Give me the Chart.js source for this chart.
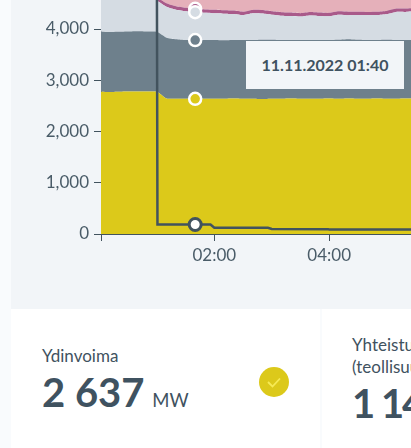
<!doctype html>
<html>
<head>
    <meta charset="UTF-8">
    <title>Sähköntuotanto</title>
    <script src="https://cdn.jsdelivr.net/npm/chart.js@4/dist/chart.umd.min.js"></script>
    <style>
        html, body { margin: 0; padding: 0; width: 411px; height: 448px; overflow: hidden; background: #f9fbfd; }
        body { position: relative; font-family: Lato, sans-serif; color: #3f5260; }
        #panel { position: absolute; left: 11px; top: 0; width: 400px; height: 309px; background: #f2f5f8; }
        #chart-area { position: absolute; left: 0; top: 0; }
        #stamp { position: absolute; left: 246px; top: 41px; width: 158px; height: 48px; line-height: 48px; background: #f2f5f8; text-align: center; font-size: 16px; font-weight: 700; }
        .card { position: absolute; top: 309px; height: 139px; background: #fff; overflow: hidden; }
        #card1 { left: 11px; width: 309px; }
        #card2 { left: 322px; width: 89px; }
        .label { position: absolute; font-size: 17px; line-height: 22px; white-space: nowrap; }
        .value { position: absolute; font-size: 40px; font-weight: 700; line-height: 44px; white-space: nowrap; }
        .value span { font-size: 18.5px; font-weight: 400; margin-left: -2px; }
        #check { position: absolute; left: 248px; top: 58px; }
    </style>
</head>
<body>
<div id="panel"></div>
<canvas id="chart-area" width="411" height="300"></canvas>
<div id="stamp">11.11.2022 01:40</div>
<div class="card" id="card1">
    <div class="label" style="left:31px;top:36px">Ydinvoima</div>
    <div class="value" style="left:31px;top:61px">2 637 <span>MW</span></div>
    <svg id="check" width="30" height="30" viewBox="0 0 30 30">
        <circle cx="15" cy="15" r="15" fill="#dcc91a"></circle>
        <path d="M9 15 L13.5 19.5 L21 11.5" fill="none" stroke="#f6ea55" stroke-width="1.8"></path>
    </svg>
</div>
<div class="card" id="card2">
    <div class="label" style="left:30px;top:25px">Yhteistuotanto<br>(teollisuus)</div>
    <div class="value" style="left:30px;top:72px;letter-spacing:-2px">1 148 <span>MW</span></div>
</div>
<script>
    // minuutit keskiyöstä
    var minutes = [0, 10, 20, 30, 40, 50, 60, 70, 80, 90, 100, 110, 120, 130, 140, 150, 160, 170, 180, 190, 200, 210, 220, 230, 240, 250, 260, 270, 280, 290, 300, 310, 320, 330];
    var nuclear = [2775, 2770, 2775, 2780, 2780, 2780, 2775, 2645, 2640, 2640, 2637, 2640, 2640, 2640, 2645, 2640, 2640, 2635, 2640, 2640, 2645, 2640, 2640, 2640, 2645, 2640, 2645, 2640, 2640, 2645, 2640, 2640, 2645, 2640];
    var chp = [1170, 1170, 1170, 1170, 1175, 1170, 1170, 1185, 1160, 1145, 1148, 1145, 1145, 1140, 1140, 1145, 1145, 1155, 1150, 1145, 1140, 1145, 1145, 1145, 1140, 1150, 1155, 1150, 1145, 1140, 1150, 1145, 1140, 1145];
    var hydro = [675, 680, 675, 670, 665, 670, 607, 605, 577, 562, 543, 533, 523, 519, 508, 486, 523, 513, 489, 475, 469, 459, 480, 469, 463, 489, 469, 481, 484, 486, 497, 547, 549, 559];
    var wind = [66, 64, 68, 66, 65, 67, 66, 66, 66, 66, 66, 64, 68, 66, 66, 67, 65, 66, 66, 68, 66, 64, 66, 66, 67, 66, 68, 66, 65, 66, 66, 66, 64, 66];
    var other = [820, 815, 810, 805, 800, 800, 790, 785, 780, 780, 775, 775, 770, 770, 770, 765, 765, 760, 760, 760, 755, 755, 755, 750, 750, 750, 745, 745, 745, 740, 740, 740, 735, 735];
    var loadMinutes = [0, 60, 60.6, 100, 116, 120, 176, 180, 239, 240, 330];
    var loadValues = [4950, 4950, 185, 185, 185, 123, 123, 98, 92, 90, 88];
    var hoverMinute = 100;
    var xTicks = [1.6, 120, 240];
    var yTicks = [0, 1000, 2000, 3000, 4000];

    function band(label, values, fillColor, fillTo) {
        return {
            label: label,
            stack: 'production',
            data: values.map(function (v, i) { return { x: minutes[i], y: v }; }),
            backgroundColor: fillColor,
            borderWidth: 0,
            fill: fillTo,
            tension: 0.2,
            pointRadius: function (ctx) { return ctx.raw && ctx.raw.x === hoverMinute ? 6 : 0; },
            pointBackgroundColor: fillColor,
            pointBorderColor: '#fff',
            pointBorderWidth: 2.5
        };
    }

    var datasets = [
        band('Ydinvoima', nuclear, '#dcc91a', 'origin'),
        band('Yhteistuotanto (teollisuus)', chp, '#6e808c', '-1'),
        band('Vesivoima', hydro, '#d5dce3', '-1'),
        band('Tuulivoima', wind, '#a95a8a', '-1'),
        band('Muu', other, '#e5b0ba', '-1'),
        {
            label: 'Kulutus',
            stack: 'load',
            order: -1,
            data: loadValues.map(function (v, i) { return { x: loadMinutes[i], y: v }; }),
            borderColor: '#42535e',
            borderWidth: 2.5,
            fill: false,
            tension: 0,
            pointRadius: function (ctx) { return ctx.raw && ctx.raw.x === hoverMinute ? 6 : 0; },
            pointBackgroundColor: '#fff',
            pointBorderColor: '#42535e',
            pointBorderWidth: 3
        }
    ];

    var ctx = document.getElementById('chart-area').getContext('2d');
    window.myChart = new Chart(ctx, {
        type: 'line',
        data: { datasets: datasets },
        options: {
            responsive: false,
            animation: false,
            events: [],
            layout: { padding: 0 },
            plugins: { legend: { display: false }, tooltip: { enabled: false } },
            scales: {
                x: {
                    type: 'linear',
                    min: 1.6,
                    max: 325.5,
                    afterFit: function (scale) {
                        scale.height = 66;
                        scale.paddingLeft = 0;
                        scale.paddingRight = 0;
                    },
                    afterBuildTicks: function (scale) {
                        scale.ticks = xTicks.map(function (v) { return { value: v }; });
                    },
                    border: { color: '#42535e' },
                    grid: { drawOnChartArea: false, color: '#42535e', tickLength: 7 },
                    ticks: {
                        maxRotation: 0,
                        autoSkip: false,
                        padding: 4,
                        color: '#4a5c68',
                        font: { family: 'Lato', size: 17 },
                        callback: function (value) {
                            if (value % 60 !== 0) return '';
                            var h = value / 60;
                            return (h < 10 ? '0' : '') + h + ':00';
                        }
                    }
                },
                y: {
                    stacked: true,
                    min: 0,
                    max: 4566,
                    afterFit: function (scale) {
                        scale.width = 101;
                        scale.paddingTop = 0;
                        scale.paddingBottom = 0;
                    },
                    afterBuildTicks: function (scale) {
                        scale.ticks = yTicks.map(function (v) { return { value: v }; });
                    },
                    border: { color: '#42535e' },
                    grid: { drawOnChartArea: false, color: '#42535e', tickLength: 7 },
                    ticks: {
                        autoSkip: false,
                        padding: 5,
                        color: '#4a5c68',
                        font: { family: 'Lato', size: 17 },
                        callback: function (value) { return value.toLocaleString('en-US'); }
                    }
                }
            }
        }
    });
</script>
</body>
</html>
